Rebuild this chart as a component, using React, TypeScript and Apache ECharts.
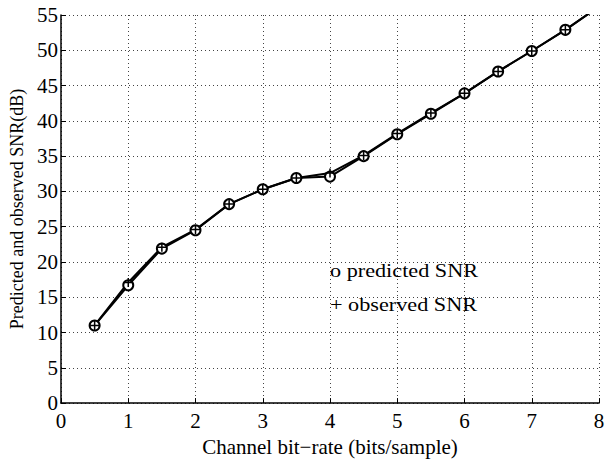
import React, { useEffect, useRef } from "react";
import * as echarts from "echarts";

const bitRates = [0.5, 1, 1.5, 2, 2.5, 3, 3.5, 4, 4.5, 5, 5.5, 6, 6.5, 7, 7.5, 8];
const predictedSNR = [11, 16.7, 21.9, 24.5, 28.2, 30.3, 31.9, 32.1, 35.0, 38.1, 41.0, 43.9, 47.0, 49.9, 52.9, 56.2];
const observedSNR = [11, 17.1, 22.1, 24.6, 28.2, 30.3, 31.9, 32.6, 35.1, 38.2, 41.1, 43.9, 47.0, 49.9, 52.9, 56.2];
const xTitle = "Channel bit\u2212rate (bits/sample)";
const yTitle = "Predicted and observed SNR(dB)";
const legendLabels = ["o predicted SNR", "+ observed SNR"];

const FONT = "'Liberation Serif', 'Times New Roman', serif";

export default function App() {
  const ref = useRef<HTMLDivElement>(null);
  useEffect(() => {
    if (!ref.current) return;
    const chart = echarts.init(ref.current, undefined, { renderer: "svg" });
    const pred = bitRates.map((x, i) => [x, predictedSNR[i]]);
    const obs = bitRates.map((x, i) => [x, observedSNR[i]]);
    chart.setOption({
      animation: false,
      backgroundColor: "#fff",
      grid: { left: 61, right: 13, top: 15, bottom: 51, containLabel: false },
      xAxis: {
        type: "value",
        min: 0,
        max: 8,
        interval: 1,
        name: xTitle,
        nameLocation: "middle",
        nameGap: 27,
        nameTextStyle: { fontFamily: FONT, fontSize: 21, color: "#000" },
        axisLine: { show: true, lineStyle: { color: "#000", width: 1.5 } },
        axisTick: { show: true, inside: true, length: 5, lineStyle: { color: "#000" } },
        axisLabel: { fontFamily: FONT, fontSize: 21, color: "#000", margin: 7 },
        splitLine: { show: true, lineStyle: { color: "#444", type: [1, 3], width: 1 } },
      },
      yAxis: {
        type: "value",
        min: 0,
        max: 55,
        interval: 5,
        name: yTitle,
        nameLocation: "middle",
        nameGap: 29,
        nameTextStyle: { fontFamily: FONT, fontSize: 18, color: "#000" },
        axisLine: { show: true, lineStyle: { color: "#000", width: 1.5 } },
        axisTick: { show: true, inside: true, length: 5, lineStyle: { color: "#000" } },
        axisLabel: { fontFamily: FONT, fontSize: 21, color: "#000", margin: 3 },
        splitLine: { show: true, lineStyle: { color: "#444", type: [1, 3], width: 1 } },
      },
      series: [
        {
          name: "predicted SNR",
          type: "line",
          data: pred,
          clip: true,
          symbol: "emptyCircle",
          symbolSize: 10,
          lineStyle: { color: "#000", width: 2 },
          itemStyle: { color: "#000", borderColor: "#000", borderWidth: 1.5 },
        },
        {
          name: "observed SNR",
          type: "line",
          data: obs,
          clip: true,
          symbol: "path://M0,5L10,5M5,0L5,10",
          symbolSize: 9,
          lineStyle: { color: "#000", width: 2 },
          itemStyle: { color: "none", borderColor: "#000", borderWidth: 1.5 },
        },
      ],
      graphic: [
        {
          type: "text",
          x: 330,
          y: 261,
          scaleX: 1.17,
          style: { text: legendLabels[0], fontFamily: FONT, fontSize: 19, fill: "#000" },
        },
        {
          type: "text",
          x: 330,
          y: 295,
          scaleX: 1.17,
          style: { text: legendLabels[1], fontFamily: FONT, fontSize: 19, fill: "#000" },
        },
      ],
    });
    return () => chart.dispose();
  }, []);
  return (
    <div
      ref={ref}
      style={{ position: "absolute", left: 0, top: 0, width: 612, height: 462 }}
    />
  );
}
